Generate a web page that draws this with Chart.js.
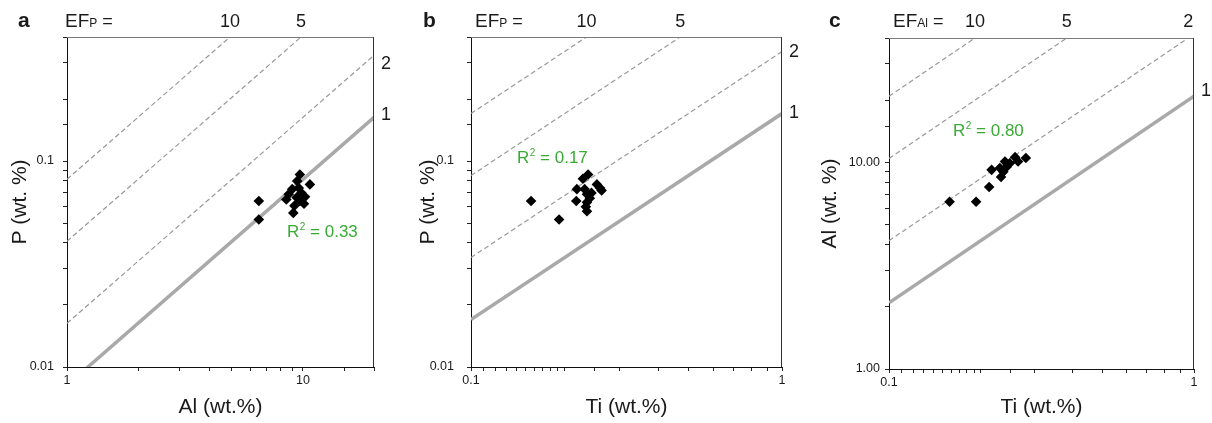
<!DOCTYPE html>
<html>
<head>
<meta charset="utf-8">
<script src="https://cdn.jsdelivr.net/npm/chart.js@4.4.1/dist/chart.umd.min.js"></script>
<style>
  html, body { margin: 0; padding: 0; background: #fff; }
  #wrap { position: relative; width: 1212px; height: 423px; overflow: hidden; }
  canvas { position: absolute; top: 0; }
</style>
</head>
<body>
<div id="wrap">
  <canvas id="ca" width="404" height="423" style="left:0"></canvas>
  <canvas id="cb" width="404" height="423" style="left:404px"></canvas>
  <canvas id="cc" width="404" height="423" style="left:808px"></canvas>
</div>
<script>
// panel a: P vs Al
const aAl = [6.5, 6.5, 9.7, 10.7, 8.7, 9.1, 10.1, 9.6, 9.4, 9.0, 9.85, 9.45, 8.5, 10.2, 9.7, 9.2];
const aP = [0.064, 0.052, 0.086, 0.077, 0.069, 0.056, 0.062, 0.074, 0.0665, 0.073, 0.070, 0.080, 0.065, 0.067, 0.064, 0.0606];
// panel b: P vs Ti
const bTi = [0.156, 0.192, 0.238, 0.219, 0.218, 0.260, 0.254, 0.236, 0.236, 0.236, 0.232, 0.244, 0.263, 0.229, 0.241, 0.234];
const bP = [0.064, 0.052, 0.086, 0.073, 0.064, 0.074, 0.077, 0.069, 0.063, 0.057, 0.073, 0.070, 0.072, 0.082, 0.066, 0.060];
// panel c: Al vs Ti
const cTi = [0.158, 0.193, 0.213, 0.217, 0.233, 0.240, 0.259, 0.281, 0.265, 0.243, 0.237, 0.231, 0.249];
const cAl = [6.45, 6.45, 7.6, 9.2, 8.5, 10.1, 10.6, 10.5, 10.1, 9.5, 9.0, 9.4, 9.9];

// EF = 1 reference ratios (upper crust)
const ratioPAl = 0.00815;
const ratioPTi = 0.17;
const ratioAlTi = 20.9;
const efLevels = [1, 2, 5, 10];
const r2Labels = ['0.33', '0.17', '0.80'];

const FONT = '"Liberation Sans", Arial, Helvetica, sans-serif';
Chart.defaults.font.family = FONT;
Chart.defaults.color = '#1a1a1a';

const panels = [
  { id: 'ca', letter: 'a', xs: aAl, ys: aP, ratio: ratioPAl, xr: [1, 20], yr: [0.01, 0.4],
    xTitle: 'Al (wt.%)', yTitle: 'P (wt. %)', sub: 'P', yFmt: v => String(v),
    box: { left: 67, right: 30, top: 37, bottom: 56 }, yTitlePad: 8, yTickPad: 9,
    top: [10, 5], right: [[2, 9], [1, -2]], letterX: 18, efX: 65, r2: r2Labels[0], r2At: [287, 232] },
  { id: 'cb', letter: 'b', xs: bTi, ys: bP, ratio: ratioPTi, xr: [0.1, 1], yr: [0.01, 0.4],
    xTitle: 'Ti (wt.%)', yTitle: 'P (wt. %)', sub: 'P', yFmt: v => String(v),
    box: { left: 67, right: 26, top: 37, bottom: 56 }, yTitlePad: 12, yTickPad: 13,
    top: [10, 5], right: [[2, 0], [1, -1]], letterX: 19, efX: 71, r2: r2Labels[1], r2At: [113, 158] },
  { id: 'cc', letter: 'c', xs: cTi, ys: cAl, ratio: ratioAlTi, xr: [0.1, 1], yr: [1, 40],
    xTitle: 'Ti (wt.%)', yTitle: 'Al (wt. %)', sub: 'Al', yFmt: v => v.toFixed(2),
    box: { left: 81, right: 18, top: 38, bottom: 54 }, yTitlePad: 10, yTickPad: 5,
    top: [10, 5, 2], right: [[1, -5]], letterX: 21, efX: 85, r2: r2Labels[2], r2At: [145, 131] }
];

function isDecade(v) {
  const l = Math.log10(v);
  return Math.abs(l - Math.round(l)) < 1e-6;
}

const decor = {
  id: 'decor',
  afterDraw(chart, args, p) {
    const { ctx, chartArea: ca, scales: { x, y } } = chart;
    ctx.save();
    // top and right frame
    ctx.lineWidth = 1;
    ctx.strokeStyle = '#7a7a7a';
    ctx.beginPath(); ctx.moveTo(ca.left, ca.top + 0.5); ctx.lineTo(ca.right, ca.top + 0.5); ctx.stroke();
    ctx.strokeStyle = '#333';
    ctx.beginPath(); ctx.moveTo(ca.right - 0.5, ca.top); ctx.lineTo(ca.right - 0.5, ca.bottom); ctx.stroke();

    ctx.fillStyle = '#1a1a1a';
    ctx.textBaseline = 'alphabetic';
    // panel letter
    ctx.font = 'bold 21px ' + FONT;
    ctx.textAlign = 'left';
    ctx.fillText(p.letter, p.letterX, 27);
    // EF label
    ctx.font = '19px ' + FONT;
    ctx.fillText('EF', p.efX, 27);
    let w = ctx.measureText('EF').width;
    ctx.font = '12px ' + FONT;
    ctx.fillText(p.sub, p.efX + w, 27);
    w += ctx.measureText(p.sub).width;
    ctx.font = '18px ' + FONT;
    ctx.fillText(' =', p.efX + w, 27);

    // labels where EF lines leave the top edge
    ctx.textAlign = 'center';
    p.top.forEach(ef => {
      const px = x.getPixelForValue(p.yr[1] / (p.ratio * ef));
      ctx.fillText(String(ef), px, 27);
    });
    // labels where EF lines leave the right edge
    ctx.textAlign = 'left';
    ctx.textBaseline = 'middle';
    p.right.forEach(([ef, dy]) => {
      const py = y.getPixelForValue(p.ratio * ef * p.xr[1]) + dy;
      ctx.fillText(String(ef), ca.right + 7, py);
    });

    // R² label
    ctx.fillStyle = '#3aaa35';
    ctx.font = '17px ' + FONT;
    const [rx, ry] = p.r2At;
    ctx.fillText('R', rx, ry);
    let rw = ctx.measureText('R').width;
    ctx.font = '10px ' + FONT;
    ctx.fillText('2', rx + rw + 0.5, ry - 5);
    rw += ctx.measureText('2').width + 0.5;
    ctx.font = '17px ' + FONT;
    ctx.fillText(' = ' + p.r2, rx + rw, ry);
    ctx.restore();
  }
};

panels.forEach(p => {
  const points = p.xs.map((v, i) => ({ x: v, y: p.ys[i] }));
  const lines = efLevels.map(ef => ({
    data: [
      { x: p.xr[0], y: p.ratio * ef * p.xr[0] },
      { x: p.xr[1], y: p.ratio * ef * p.xr[1] }
    ],
    showLine: true,
    pointRadius: 0,
    borderColor: ef === 1 ? '#a9a9a9' : '#999',
    borderWidth: ef === 1 ? 3.5 : 1.2,
    borderDash: ef === 1 ? [] : [5, 3],
    clip: 0,
    order: 2
  }));

  new Chart(document.getElementById(p.id), {
    type: 'scatter',
    data: {
      datasets: [{
        data: points,
        pointStyle: 'rectRot',
        pointRadius: 5.3,
        backgroundColor: '#000',
        borderColor: '#000',
        borderWidth: 0,
        order: 1
      }, ...lines]
    },
    options: {
      responsive: false,
      animation: false,
      events: [],
      layout: { padding: { left: 0, right: p.box.right, top: p.box.top, bottom: 0 } },
      plugins: { legend: { display: false }, tooltip: { enabled: false }, decor: p },
      scales: {
        x: {
          type: 'logarithmic',
          min: p.xr[0], max: p.xr[1],
          afterFit: s => { s.height = p.box.bottom; },
          border: { display: true, color: '#111', width: 1 },
          grid: { display: true, drawOnChartArea: false, drawTicks: true, tickLength: 4, tickColor: '#222' },
          ticks: {
            autoSkip: false, maxRotation: 0, padding: 2,
            font: { size: 12.5 },
            callback: v => isDecade(v) ? String(Number(v.toPrecision(6))) : ''
          },
          title: { display: true, text: p.xTitle, font: { size: 21 }, padding: { top: 0, bottom: 3 } }
        },
        y: {
          type: 'logarithmic',
          min: p.yr[0], max: p.yr[1],
          afterFit: s => { s.width = p.box.left; },
          border: { display: true, color: '#111', width: 1 },
          grid: { display: true, drawOnChartArea: false, drawTicks: true, tickLength: 4, tickColor: '#222' },
          ticks: {
            autoSkip: false, padding: p.yTickPad,
            font: { size: 12.5 },
            callback: v => isDecade(v) ? p.yFmt(Number(v.toPrecision(6))) : ''
          },
          title: { display: true, text: p.yTitle, font: { size: 21 }, padding: { top: p.yTitlePad, bottom: 0 } }
        }
      }
    },
    plugins: [decor]
  });
});
</script>
</body>
</html>
